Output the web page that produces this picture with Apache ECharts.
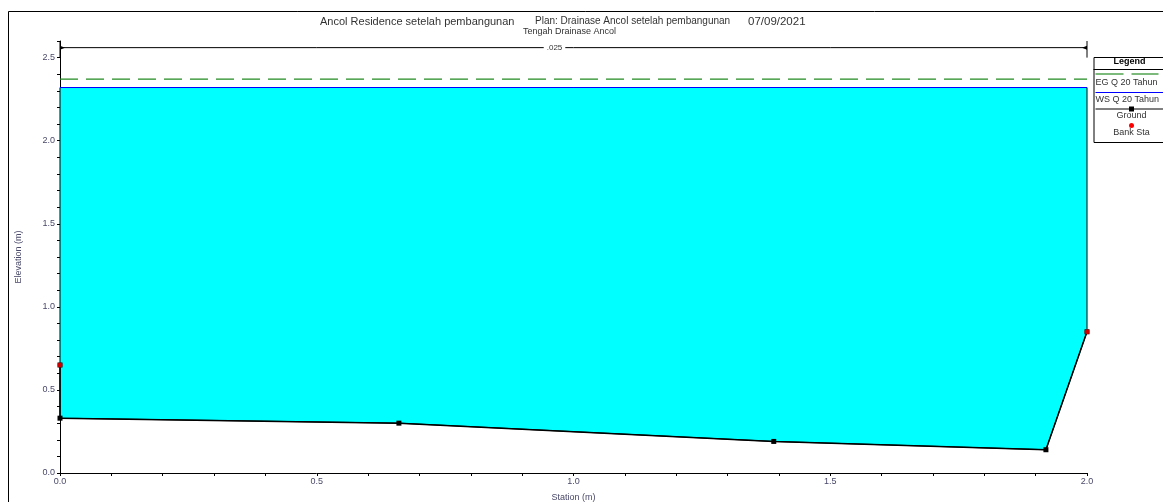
<!DOCTYPE html>
<html>
<head>
<meta charset="utf-8">
<script src="https://cdn.jsdelivr.net/npm/echarts@6/dist/echarts.min.js"></script>
<style>
  html, body { margin: 0; padding: 0; background: #fff; }
  #chart { width: 1163px; height: 502px; }
</style>
</head>
<body>
<div id="chart"></div>
<script>
// Cross section: Tengah Drainase Ancol
const groundStation = [0, 0, 0.66, 1.39, 1.92, 2.0];
const groundElev    = [0.65, 0.33, 0.30, 0.19, 0.14, 0.85];
const bankStation   = [0, 2.0];
const bankElev      = [0.65, 0.85];
const wsElev = 2.32;   // WS Q 20 Tahun
const egElev = 2.37;   // EG Q 20 Tahun
const manningN = ['.025'];
const manningStations = [0, 2.0];
const manningElev = 2.56;
const xTicks = [0.0, 0.5, 1.0, 1.5, 2.0];
const yTicks = [0.0, 0.5, 1.0, 1.5, 2.0, 2.5];

const FONT = 'Liberation Sans, Arial, sans-serif';
const LABEL_COLOR = '#48486a';

const groundData = groundStation.map((s, i) => [s, groundElev[i]]);
const bankData = bankStation.map((s, i) => [s, bankElev[i]]);
const xMin = groundStation[0], xMax = groundStation[groundStation.length - 1];

function majorLabel(list) {
  return function (v) {
    for (const t of list) if (Math.abs(v - t) < 1e-6) return t.toFixed(1);
    return '';
  };
}

const chart = echarts.init(document.getElementById('chart'), null, { renderer: 'canvas' });

const option = {
  animation: false,
  backgroundColor: '#fff',
  grid: { left: 60, top: 41, width: 1027, height: 432, outerBoundsMode: 'none', containLabel: false },
  xAxis: {
    type: 'value', min: 0, max: 2.0, interval: 0.1,
    name: 'Station (m)', nameLocation: 'middle', nameGap: 20,
    nameTextStyle: { fontFamily: FONT, fontSize: 9, color: LABEL_COLOR },
    axisLine: { lineStyle: { color: '#000', width: 1 } },
    axisTick: { length: 3, lineStyle: { color: '#000' } },
    axisLabel: { formatter: majorLabel(xTicks), fontFamily: FONT, fontSize: 9, color: LABEL_COLOR, margin: 4 },
    splitLine: { show: false }
  },
  yAxis: {
    type: 'value', min: 0, max: 2.6, interval: 0.1,
    name: 'Elevation (m)', nameLocation: 'middle', nameGap: 37,
    nameTextStyle: { fontFamily: FONT, fontSize: 9, color: LABEL_COLOR },
    axisLine: { show: true, lineStyle: { color: '#000', width: 1 } },
    axisTick: { show: true, length: 3, lineStyle: { color: '#000' } },
    axisLabel: { formatter: majorLabel(yTicks), fontFamily: FONT, fontSize: 9, color: LABEL_COLOR, margin: 5 },
    splitLine: { show: false }
  },
  graphic: [
    // outer frame
    { type: 'line', shape: { x1: 8.5, y1: 11.5, x2: 1163, y2: 11.5 }, style: { stroke: '#000', lineWidth: 1 } },
    { type: 'line', shape: { x1: 8.5, y1: 11.5, x2: 8.5, y2: 502 }, style: { stroke: '#000', lineWidth: 1 } },
    // titles
    { type: 'text', left: 320, top: 16, style: { text: 'Ancol Residence setelah pembangunan', font: '11px ' + FONT, fill: '#333' } },
    { type: 'text', left: 535, top: 16, style: { text: 'Plan: Drainase Ancol setelah pembangunan', font: '10px ' + FONT, fill: '#333' } },
    { type: 'text', left: 748, top: 16, style: { text: '07/09/2021', font: '11.5px ' + FONT, fill: '#333' } },
    { type: 'text', left: 523, top: 27, style: { text: 'Tengah Drainase Ancol', font: '9px ' + FONT, fill: '#333' } },
    // legend
    {
      type: 'group', left: 1091, top: 57,
      children: [
        { type: 'rect', shape: { x: 0.5, y: 0.5, width: 90, height: 85 }, style: { fill: '#fff', stroke: '#000', lineWidth: 1 } },
        { type: 'text', style: { x: 36, y: 5, text: 'Legend', font: 'bold 9px ' + FONT, fill: '#000', align: 'center', verticalAlign: 'middle' } },
        { type: 'line', shape: { x1: 0, y1: 12.5, x2: 90, y2: 12.5 }, style: { stroke: '#000', lineWidth: 1 } },
        { type: 'line', shape: { x1: 2, y1: 17, x2: 30, y2: 17 }, style: { stroke: '#228b22', lineWidth: 1.2 } },
        { type: 'line', shape: { x1: 38, y1: 17, x2: 65, y2: 17 }, style: { stroke: '#228b22', lineWidth: 1.2 } },
        { type: 'text', style: { x: 2, y: 26, text: 'EG Q 20 Tahun', font: '9px ' + FONT, fill: '#333', verticalAlign: 'middle' } },
        { type: 'line', shape: { x1: 2, y1: 35.5, x2: 72, y2: 35.5 }, style: { stroke: '#0000ff', lineWidth: 1 } },
        { type: 'text', style: { x: 2, y: 43, text: 'WS Q 20 Tahun', font: '9px ' + FONT, fill: '#333', verticalAlign: 'middle' } },
        { type: 'line', shape: { x1: 2, y1: 52, x2: 72, y2: 52 }, style: { stroke: '#000', lineWidth: 1 } },
        { type: 'rect', shape: { x: 35.5, y: 49.5, width: 5, height: 5 }, style: { fill: '#000' } },
        { type: 'text', style: { x: 38, y: 59, text: 'Ground', font: '9px ' + FONT, fill: '#333', align: 'center', verticalAlign: 'middle' } },
        { type: 'circle', shape: { cx: 38, cy: 68.5, r: 2.5 }, style: { fill: '#ff0000' } },
        { type: 'text', style: { x: 38, y: 76, text: 'Bank Sta', font: '9px ' + FONT, fill: '#333', align: 'center', verticalAlign: 'middle' } }
      ]
    }
  ],
  series: [
    {
      // water area between the water surface and the ground
      type: 'custom', name: 'Water', z: 1, silent: true,
      data: [0],
      renderItem: function (params, api) {
        const pts = [api.coord([xMin, wsElev]), api.coord([xMax, wsElev])];
        for (let i = groundData.length - 1; i >= 0; i--) {
          if (i === 0 && groundData[0][0] === groundData[1][0]) continue;
          pts.push(api.coord(groundData[i]));
        }
        return { type: 'polygon', shape: { points: pts }, style: { fill: '#00ffff', stroke: '#000', lineWidth: 1 } };
      }
    },
    {
      type: 'line', name: 'EG Q 20 Tahun', z: 3,
      data: [[xMin, egElev], [xMax, egElev]],
      symbol: 'none',
      lineStyle: { color: '#228b22', width: 1.2, type: [18, 8] }
    },
    {
      type: 'line', name: 'WS Q 20 Tahun', z: 3,
      data: [[xMin, wsElev], [xMax, wsElev]],
      symbol: 'none',
      lineStyle: { color: '#0000ff', width: 1 }
    },
    {
      type: 'line', name: 'Ground', z: 4,
      data: groundData,
      symbol: 'rect', symbolSize: 5, showAllSymbol: true,
      itemStyle: { color: '#000' },
      lineStyle: { color: '#000', width: 1.5 }
    },
    {
      type: 'scatter', name: 'Bank Sta', z: 5,
      data: bankData,
      symbol: 'circle', symbolSize: 5,
      itemStyle: { color: '#ff0000' }
    },
    {
      // Manning's n bracket along the top
      type: 'custom', name: 'n', z: 6, silent: true,
      data: [0],
      renderItem: function (params, api) {
        const a = api.coord([manningStations[0], manningElev]);
        const b = api.coord([manningStations[1], manningElev]);
        const aTop = api.coord([manningStations[0], 2.6]);
        const aBot = api.coord([manningStations[0], 2.5]);
        const bTop = api.coord([manningStations[1], 2.6]);
        const bBot = api.coord([manningStations[1], 2.5]);
        return {
          type: 'group',
          children: [
            { type: 'line', shape: { x1: a[0], y1: a[1], x2: b[0], y2: b[1] }, style: { stroke: '#000', lineWidth: 1 } },
            { type: 'line', shape: { x1: aTop[0], y1: aTop[1], x2: aBot[0], y2: aBot[1] }, style: { stroke: '#000', lineWidth: 1 } },
            { type: 'line', shape: { x1: bTop[0], y1: bTop[1], x2: bBot[0], y2: bBot[1] }, style: { stroke: '#000', lineWidth: 1 } },
            { type: 'polygon', shape: { points: [[a[0], a[1] - 2], [a[0] + 5, a[1]], [a[0], a[1] + 2]] }, style: { fill: '#000' } },
            { type: 'polygon', shape: { points: [[b[0], b[1] - 2], [b[0] - 5, b[1]], [b[0], b[1] + 2]] }, style: { fill: '#000' } },
            {
              type: 'text',
              style: {
                x: (a[0] + b[0]) / 2 - 19, y: a[1], text: manningN[0],
                font: '8px ' + FONT, fill: '#333', align: 'center', verticalAlign: 'middle',
                backgroundColor: '#fff', padding: [0, 3]
              }
            }
          ]
        };
      }
    }
  ]
};

chart.setOption(option);
</script>
</body>
</html>
